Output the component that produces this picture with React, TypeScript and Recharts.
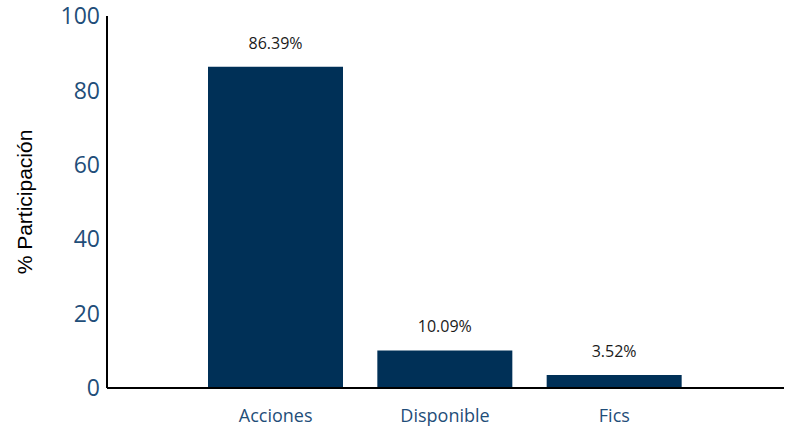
import React from 'react';
import { BarChart, Bar, XAxis, YAxis, LabelList, Label } from 'recharts';

const categories = ['Acciones', 'Disponible', 'Fics'];
const participation = [86.39, 10.09, 3.52];
const yTicks = [0, 20, 40, 60, 80, 100];

const data = categories.map((name, i) => ({ name, value: participation[i] }));

const BAR_COLOR = '#003057';
const TICK_COLOR = '#1F4E79';

export default function App() {
  return (
    <div style={{ position: 'absolute', left: 0, top: 0, width: 792, height: 434, background: '#fff' }}>
      <BarChart width={792} height={434} data={data} margin={{ top: 16, right: 8, bottom: 0, left: 0 }}>
        <XAxis
          dataKey="name"
          height={46}
          padding={{ left: 84, right: 85 }}
          axisLine={{ stroke: '#000', strokeWidth: 2 }}
          tickLine={false}
          tickSize={0}
          tickMargin={21}
          tick={{ fill: TICK_COLOR, fontSize: 18, fontFamily: 'Open Sans' }}
        />
        <YAxis
          width={107}
          domain={[0, 100]}
          ticks={yTicks}
          interval={0}
          axisLine={{ stroke: '#000', strokeWidth: 2 }}
          tickLine={false}
          tickSize={0}
          tickMargin={7}
          tick={{ fill: TICK_COLOR, fontSize: 23, fontFamily: 'Open Sans' }}
        >
          <Label
            value="% Participación"
            angle={-90}
            position="insideLeft"
            offset={25}
            style={{ fill: '#000', fontSize: 21, fontFamily: 'Liberation Sans', textAnchor: 'middle' }}
          />
        </YAxis>
        <Bar dataKey="value" fill={BAR_COLOR} barSize={135} isAnimationActive={false}>
          <LabelList
            dataKey="value"
            position="top"
            offset={18}
            formatter={(v: number) => `${v.toFixed(2)}%`}
            style={{ fill: '#1a1a1a', fontSize: 16, fontFamily: 'Open Sans' }}
          />
        </Bar>
      </BarChart>
    </div>
  );
}
